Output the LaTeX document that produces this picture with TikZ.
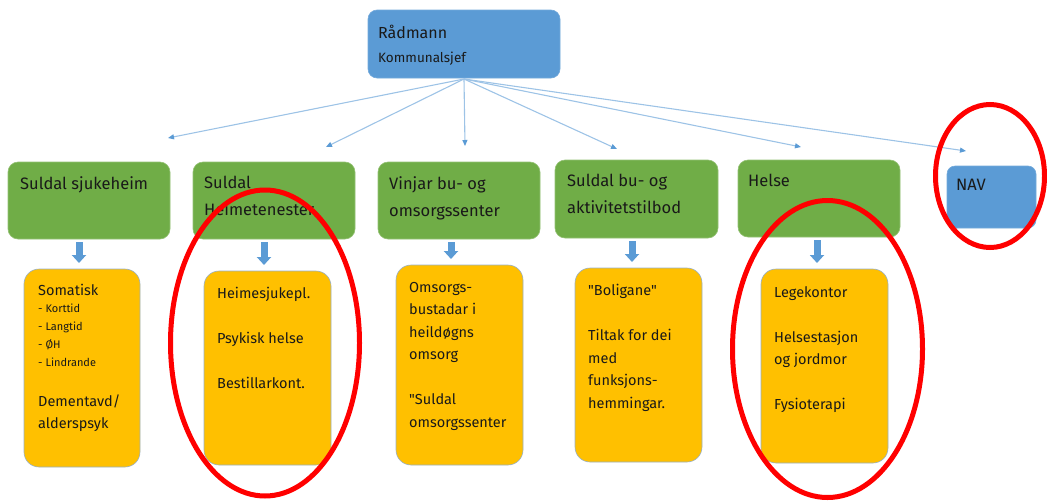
\documentclass[tikz,border=0pt]{standalone}
\usepackage{fontspec}
\setmainfont{Fira Sans}
\usetikzlibrary{shapes.geometric,arrows.meta,calc}
\definecolor{boxblue}{HTML}{5B9BD5}
\definecolor{boxgreen}{HTML}{70AD47}
\definecolor{boxorange}{HTML}{FFC000}
\definecolor{linkblue}{HTML}{9DC3E6}
\definecolor{markred}{HTML}{FF0000}
\begin{document}
\begin{tikzpicture}[x=1pt,y=-1pt,
  bluebox/.style={rectangle,rounded corners=9pt,fill=boxblue,draw=boxblue!85!white,line width=0.6pt,inner sep=0pt,outer sep=0pt,anchor=north west},
  greenbox/.style={rectangle,rounded corners=10pt,fill=boxgreen,draw=boxgreen!75!white,line width=0.6pt,inner sep=0pt,outer sep=0pt,anchor=north west},
  orangebox/.style={rectangle,rounded corners=15pt,fill=boxorange,draw=boxblue!55!gray!70!white,line width=0.6pt,inner sep=0pt,outer sep=0pt,anchor=north west},
  gtext/.style={anchor=north west,inner sep=0pt,align=left,font=\fontsize{16.5}{27}\selectfont,text=black!90},
  otext/.style={anchor=north west,inner sep=0pt,align=left,font=\fontsize{14.5}{22.5}\selectfont,text=black!90},
  link/.style={draw=linkblue,line width=1.1pt,-{Triangle[width=5pt,length=6pt,fill=boxblue,color=boxblue]}},
  blk/.style={draw=boxblue,line width=7pt,-{Triangle[width=14pt,length=8pt]},shorten <=3pt,shorten >=6pt},
  redmark/.style={ellipse,draw=markred,line width=5pt,inner sep=0pt}
]
\useasboundingbox (0,0) rectangle (1047,501);

% top
\node[bluebox,minimum width=192,minimum height=68] (rad) at (368,10) {};
\node[gtext,font=\fontsize{16}{24}\selectfont] (radt) at ([shift={(10,15)}]rad.north west) {Rådmann\\{\fontsize{13.5}{24}\selectfont Kommunalsjef}};

% targets of thin arrows
\coordinate (t1) at (168,138);
\coordinate (t2) at (326,147);
\coordinate (t3) at (465,146);
\coordinate (t4) at (617,149);
\coordinate (t5) at (801,147);
\coordinate (t6) at (966,151);
\foreach \t in {t1,t2,t3,t4,t5,t6}
  \draw[link] ([yshift=-1pt]rad.south) -- (\t);

% green row
\node[greenbox,minimum width=162,minimum height=77] (g1) at (8,162) {};
\node[greenbox,minimum width=162,minimum height=77] (g2) at (193,162) {};
\node[greenbox,minimum width=162,minimum height=77] (g3) at (378,162) {};
\node[greenbox,minimum width=163,minimum height=78] (g4) at (555,160) {};
\node[greenbox,minimum width=162,minimum height=77] (g5) at (738,160) {};
\node[bluebox,minimum width=89,minimum height=62,rounded corners=8pt] (nav) at (947,166) {};

\node[gtext] (g1t) at ([shift={(12,14)}]g1.north west) {Suldal sjukeheim};
\node[gtext] (g2t) at ([shift={(11,14)}]g2.north west) {Suldal\\Heimetenester};
\node[gtext] (g3t) at ([shift={(11,14)}]g3.north west) {Vinjar bu- og\\omsorgssenter};
\node[gtext] (g4t) at ([shift={(12,14)}]g4.north west) {Suldal bu- og\\aktivitetstilbod};
\node[gtext] (g5t) at ([shift={(10,14)}]g5.north west) {Helse};
\node[gtext] (navt) at ([shift={(9,13)}]nav.north west) {NAV};

% orange row
\node[orangebox,minimum width=116,minimum height=198] (o1) at (24,269) {};
\node[orangebox,minimum width=127,minimum height=194] (o2) at (204,271) {};
\node[orangebox,minimum width=127,minimum height=200] (o3) at (396,265) {};
\node[orangebox,minimum width=127,minimum height=194] (o4) at (575,268) {};
\node[orangebox,minimum width=127,minimum height=194] (o5) at (761,269) {};

\node[otext] (o1t) at ([shift={(14,15)}]o1.north west) {Somatisk\\[-5.5pt]
  {\fontsize{11}{17.5}\selectfont - Korttid}\\[-4.5pt]
  {\fontsize{11}{17.5}\selectfont - Langtid}\\[-5pt]
  {\fontsize{11}{17.5}\selectfont - ØH}\\[-4.5pt]
  {\fontsize{11}{17.5}\selectfont - Lindrande}\\[17.5pt]
  Dementavd/\\alderspsyk};
\node[otext] (o2t) at ([shift={(13,16)}]o2.north west) {Heimesjukepl.\\[22.5pt]Psykisk helse\\[22.5pt]Bestillarkont.};
\node[otext] (o3t) at ([shift={(13,17)}]o3.north west) {Omsorgs-\\bustadar i\\heildøgns\\omsorg\\[22.5pt]\textquotedbl Suldal\\omsorgssenter};
\node[otext] (o4t) at ([shift={(13,16)}]o4.north west) {\textquotedbl Boligane\textquotedbl\\[22.5pt]Tiltak for dei\\med\\funksjons-\\hemmingar.};
\node[otext] (o5t) at ([shift={(13,17)}]o5.north west) {Legekontor\\[22.5pt]Helsestasjon\\og jordmor\\[22.5pt]Fysioterapi};

% block arrows
\draw[blk] ([xshift=-10pt]g1.south) -- ([xshift=-10pt]g1.south |- o1.north);
\draw[blk] ([xshift=-10pt]g2.south) -- ([xshift=-10pt]g2.south |- o2.north);
\draw[blk] ([xshift=-8pt]g3.south) -- ([xshift=-8pt]g3.south |- o3.north);
\draw[blk] ([xshift=-4.5pt]g4.south) -- ([xshift=-4.5pt]g4.south |- o4.north);
\draw[blk] ([xshift=-2pt]g5.south) -- ([xshift=-2pt]g5.south |- o5.north);

% red marks
\node[redmark,minimum width=189,minimum height=306] (e1) at (265,343) {};
\node[redmark,minimum width=190,minimum height=297] (e2) at (827.5,349) {};
\node[redmark,minimum width=109,minimum height=143] (e3) at (990,176) {};
\end{tikzpicture}
\end{document}
